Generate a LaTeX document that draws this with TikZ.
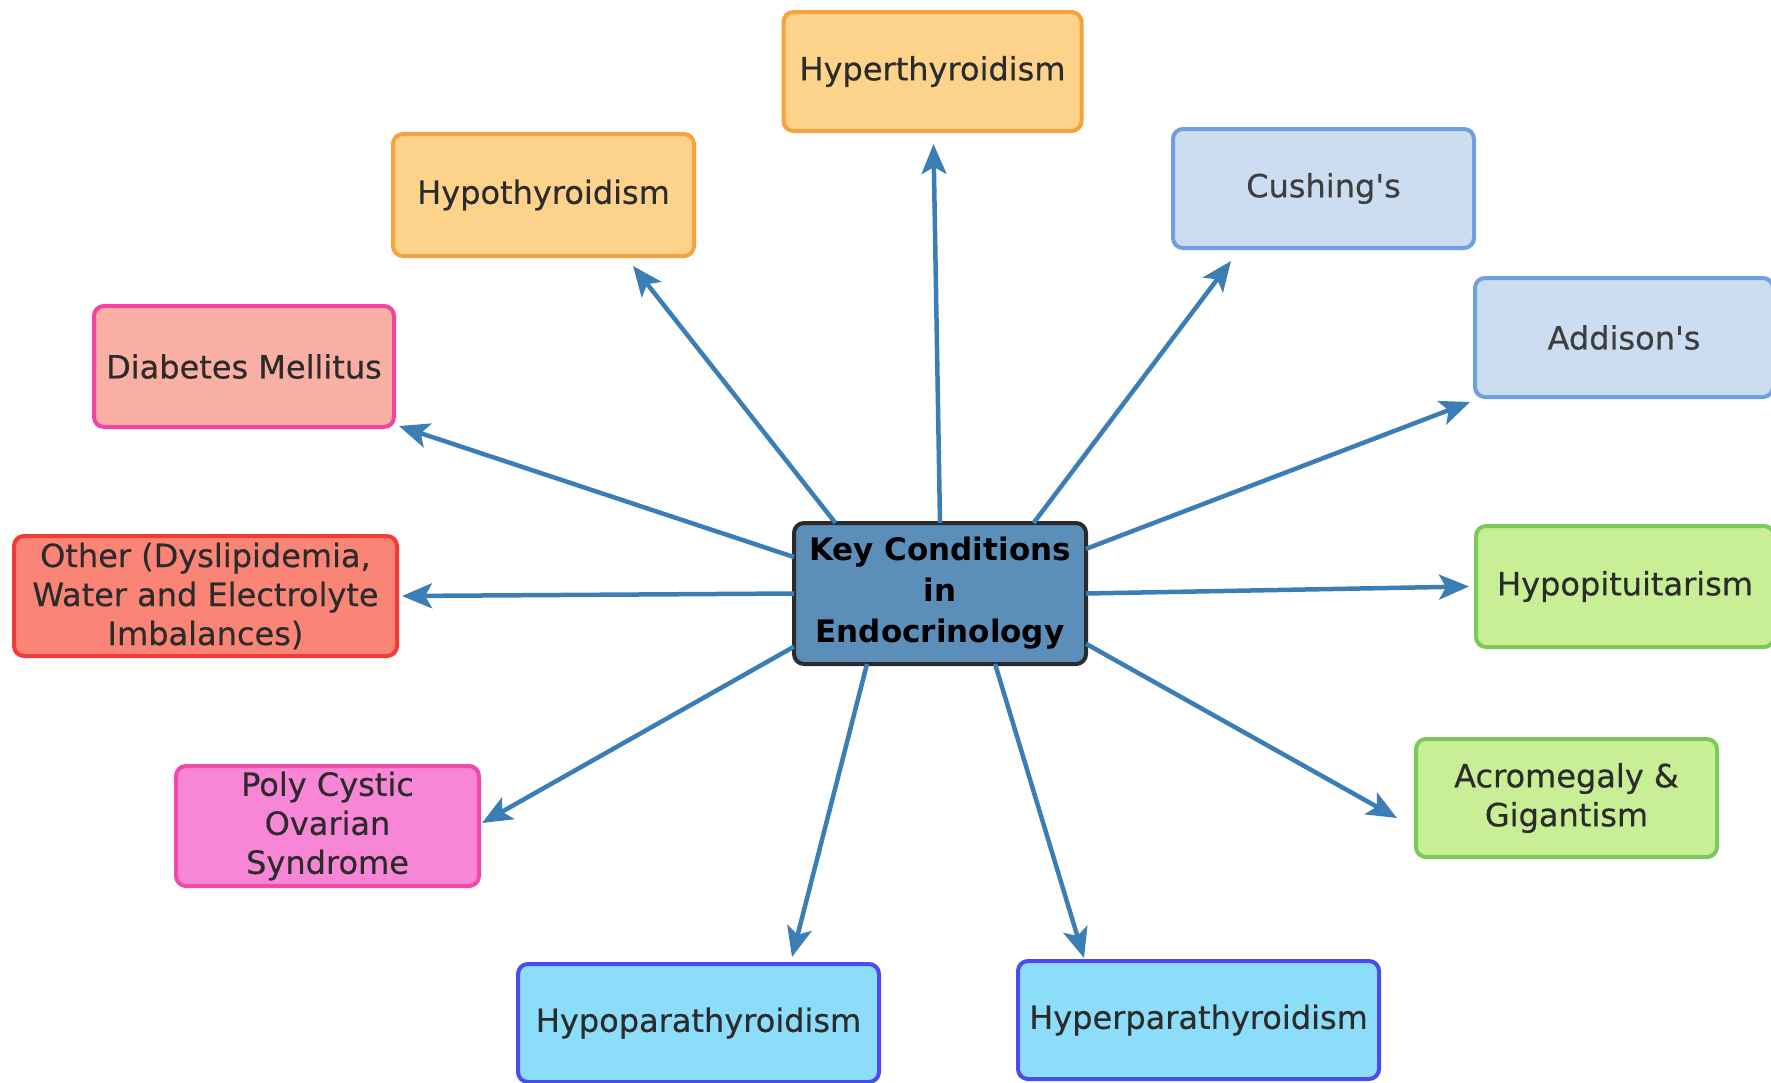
\documentclass[tikz,border=0pt]{standalone}
\usepackage{fontspec}
\setmainfont{DejaVu Sans}
\newfontfamily\boxfont[FakeBold=0.4]{DejaVu Sans}
\usepackage{xcolor}
\definecolor{cArrow}{HTML}{3B7EB5}
\definecolor{cText}{HTML}{2B2B2B}
\definecolor{cTextSoft}{HTML}{3E3E3E}
\definecolor{cKey}{HTML}{5B8FBA}
\definecolor{cKeyLine}{HTML}{2B2B2B}
\definecolor{cOrange}{HTML}{F7A23C}
\definecolor{cOrangeFill}{HTML}{FDD38C}
\definecolor{cBlue}{HTML}{6E9FE0}
\definecolor{cBlueFill}{HTML}{CCDDF2}
\definecolor{cGreen}{HTML}{7CC95A}
\definecolor{cGreenFill}{HTML}{C8EE96}
\definecolor{cRose}{HTML}{F242A4}
\definecolor{cRoseFill}{HTML}{F9AFA3}
\definecolor{cRed}{HTML}{F23A3A}
\definecolor{cRedFill}{HTML}{FA8577}
\definecolor{cPink}{HTML}{F04AA6}
\definecolor{cPinkFill}{HTML}{F886D6}
\definecolor{cPara}{HTML}{4A4CF0}
\definecolor{cParaFill}{HTML}{8CDDF9}
\usepackage{tikz}
\usetikzlibrary{arrows.meta}
\tikzset{
  node-box/.style={draw,line width=4pt,rounded corners=10pt,outer sep=0pt,
    minimum width=298pt,minimum height=119pt,inner sep=0pt,align=center,
    text=cText,font=\boxfont\fontsize{32}{39}\selectfont},
  node-key/.style={draw=cKeyLine,fill=cKey,line width=4pt,rounded corners=10pt,
    outer sep=0pt,minimum width=292pt,minimum height=141pt,inner sep=0pt,
    align=center,text=black,font=\fontsize{31}{41}\selectfont\bfseries},
  % fill and border colour of each group of conditions
  node-orange/.style={draw=cOrange,fill=cOrangeFill},
  node-blue/.style={draw=cBlue,fill=cBlueFill,text=cTextSoft},
  node-green/.style={draw=cGreen,fill=cGreenFill},
  node-rose/.style={draw=cRose,fill=cRoseFill},
  node-red/.style={draw=cRed,fill=cRedFill},
  node-pink/.style={draw=cPink,fill=cPinkFill},
  node-para/.style={draw=cPara,fill=cParaFill},
  arrow/.style={-{Stealth[length=30pt,width=25pt,inset=7pt]},line width=4.5pt,draw=cArrow},
}

\begin{document}
\begin{tikzpicture}[x=1pt,y=-1pt]
  \useasboundingbox (0,0) rectangle (1771,1082);
  \node[node-key] (key) at (940,593.5) {Key Conditions\\in\\Endocrinology};
  \node[node-box,node-orange] (hyper) at (932.5,71.5) {Hyperthyroidism};
  \node[node-box,node-orange,minimum width=301pt,minimum height=122pt] (hypo) at (543.5,195) {Hypothyroidism};
  \node[node-box,node-blue,minimum width=301pt] (cush) at (1323.5,188.5) {Cushing\textquotesingle s};
  \node[node-box,node-blue] (addis) at (1624,337.5) {Addison\textquotesingle s};
  \node[node-box,node-green,minimum height=121pt] (pitu) at (1625,586.5) {Hypopituitarism};
  \node[node-box,node-green,minimum width=301pt,minimum height=118pt] (acro) at (1566.5,798) {Acromegaly \&\\Gigantism};
  \node[node-box,node-rose,minimum width=300pt,minimum height=121pt] (diab) at (244,366.5) {Diabetes Mellitus};
  \node[node-box,node-red,minimum width=383pt,minimum height=120pt] (other) at (205.5,596) {Other (Dyslipidemia,\\Water and Electrolyte\\Imbalances)};
  \node[node-box,node-pink,minimum width=303pt,minimum height=120pt] (poly) at (327.5,826) {Poly Cystic\\Ovarian\\Syndrome};
  \node[node-box,node-para,minimum width=361pt,minimum height=118pt] (hypopara) at (698.5,1023) {Hypoparathyroidism};
  \node[node-box,node-para,minimum width=361pt,minimum height=118pt] (hyperpara) at (1198.5,1020) {Hyperparathyroidism};
  \draw[arrow] (key.north) -- ([xshift=1pt,yshift=-13pt]hyper.south);
  \draw[arrow] (key.146)   -- ([xshift=89.5pt,yshift=-10pt]hypo.south);
  \draw[arrow] (key.37)    -- ([xshift=-92.5pt,yshift=-13pt]cush.south);
  \draw[arrow] (key.17)    -- ([xshift=-5pt,yshift=-5pt]addis.south west);
  \draw[arrow] (key.east)  -- ([xshift=-7pt]pitu.west);
  \draw[arrow] (key.-19)   -- ([xshift=-19pt,yshift=-20pt]acro.west);
  \draw[arrow] (key.-52)   -- ([xshift=66pt,yshift=3pt]hyperpara.north west);
  \draw[arrow] (key.224)   -- ([xshift=-87pt,yshift=7pt]hypopara.north east);
  \draw[arrow] (key.200)   -- ([xshift=3pt,yshift=3pt]poly.east);
  \draw[arrow] (key.west)  -- ([xshift=5pt]other.east);
  \draw[arrow] (key.166)   -- ([xshift=5pt,yshift=1pt]diab.south east);
\end{tikzpicture}
\end{document}
